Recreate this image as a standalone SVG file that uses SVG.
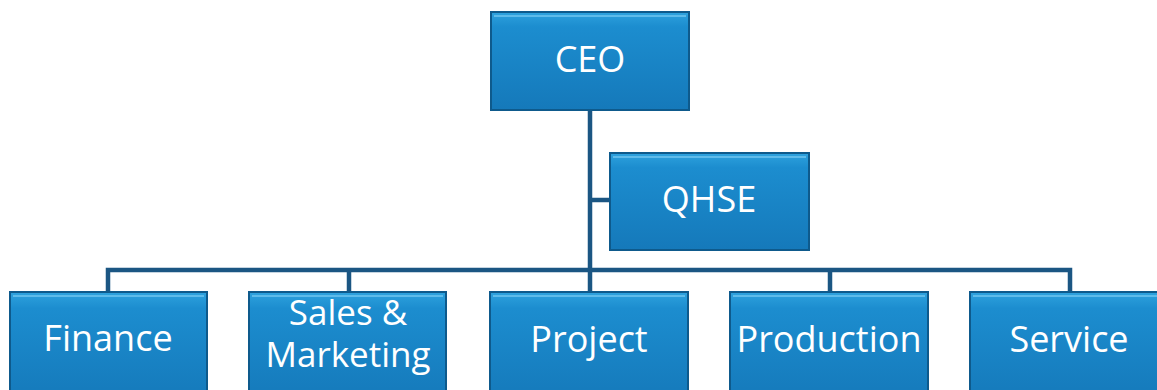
<svg xmlns="http://www.w3.org/2000/svg" width="1157" height="390" viewBox="0 0 1157 390">
<style>
.box{fill:url(#g);stroke:#0e5a8c;stroke-width:2}
.hl{fill:none;stroke:#6cc3ee;stroke-width:2;opacity:0.8}
.t{font-family:"Open Sans",sans-serif;font-size:36px;fill:#fff;text-anchor:middle}
.c{fill:none;stroke:#1b5683;stroke-width:4.5}
</style>
<defs>
<linearGradient id="g" x1="0" y1="0" x2="0" y2="1">
<stop offset="0" stop-color="#2ea2de"/>
<stop offset="0.15" stop-color="#1c8dcf"/>
<stop offset="1" stop-color="#1579ba"/>
</linearGradient>
</defs>
<rect width="1157" height="390" fill="#fff"/>
<g id="connectors">
<path class="c" d="M590 110 V270"/>
<path class="c" d="M590 200 H610"/>
<path class="c" d="M108 292 V270 H1070 V292"/>
<path class="c" d="M349 270 V292"/>
<path class="c" d="M590 270 V292"/>
<path class="c" d="M830 270 V292"/>
</g>
<g id="ceo">
<rect class="box" x="491" y="12" width="198" height="98"/>
<path class="hl" d="M494 16 H686"/>
<text class="t" x="590" y="72">CEO</text>
</g>
<g id="qhse">
<rect class="box" x="610" y="153" width="199" height="97"/>
<path class="hl" d="M613 157 H806"/>
<text class="t" x="709" y="212">QHSE</text>
</g>
<g id="finance">
<rect class="box" x="10" y="292" width="197" height="110"/>
<path class="hl" d="M13 296 H204"/>
<text class="t" x="108" y="351">Finance</text>
</g>
<g id="sales">
<rect class="box" x="249" y="292" width="197" height="110"/>
<path class="hl" d="M252 296 H443"/>
<text class="t" style="font-size:35px"><tspan x="348" y="325">Sales &amp;</tspan><tspan x="348" y="367">Marketing</tspan></text>
</g>
<g id="project">
<rect class="box" x="490" y="292" width="198" height="110"/>
<path class="hl" d="M493 296 H685"/>
<text class="t" x="589" y="352">Project</text>
</g>
<g id="production">
<rect class="box" x="730" y="292" width="198" height="110"/>
<path class="hl" d="M733 296 H925"/>
<text class="t" x="829" y="352">Production</text>
</g>
<g id="service">
<rect class="box" x="970" y="292" width="198" height="110"/>
<path class="hl" d="M973 296 H1165"/>
<text class="t" x="1069" y="352">Service</text>
</g>
</svg>
